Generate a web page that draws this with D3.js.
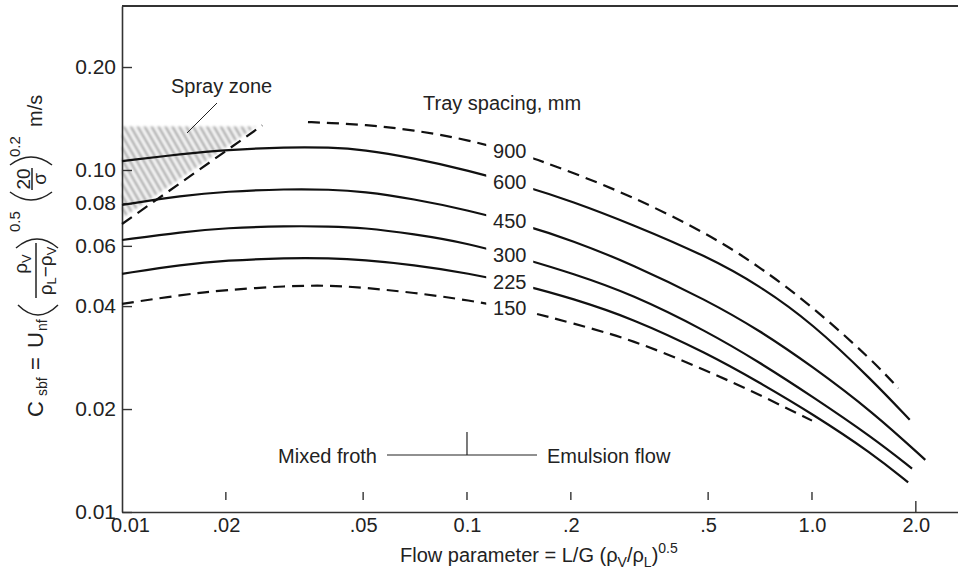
<!DOCTYPE html>
<html>
<head>
<meta charset="utf-8">
<script src="https://cdn.jsdelivr.net/npm/d3@7"></script>
<style>
  body { margin: 0; background: #fff; }
  svg { display: block; font-family: "Liberation Sans", Arial, sans-serif; }
  text { fill: #222; }
</style>
</head>
<body>
<svg id="chart" width="958" height="573"></svg>
<script>
// tray spacing curves, [flow parameter, C_sbf in m/s]
const spacing900 = [[0.0346, 0.1381], [0.04, 0.1372], [0.05, 0.1358], [0.07, 0.1309], [0.1, 0.1228], [0.15, 0.1099], [0.2, 0.0987], [0.3, 0.0839], [0.5, 0.065], [0.7, 0.0524], [1.0, 0.04], [1.5, 0.0277], [1.78, 0.023]]
const spacing600 = [[0.01, 0.1062], [0.015, 0.1114], [0.02, 0.1144], [0.03, 0.1167], [0.04, 0.1164], [0.05, 0.1148], [0.07, 0.1084], [0.1, 0.1], [0.15, 0.0892], [0.2, 0.0812], [0.3, 0.0695], [0.5, 0.0557], [0.7, 0.0461], [1.0, 0.0357], [1.5, 0.0242], [1.92, 0.0186]]
const spacing450 = [[0.01, 0.079], [0.015, 0.0842], [0.02, 0.0865], [0.03, 0.088], [0.04, 0.0877], [0.05, 0.0865], [0.07, 0.0823], [0.1, 0.0764], [0.15, 0.0686], [0.2, 0.0624], [0.3, 0.0531], [0.5, 0.0414], [0.7, 0.0341], [1.0, 0.0267], [1.5, 0.0196], [2.13, 0.0142]]
const spacing300 = [[0.01, 0.0624], [0.015, 0.0659], [0.02, 0.0677], [0.03, 0.0686], [0.04, 0.0684], [0.05, 0.0678], [0.07, 0.065], [0.1, 0.0612], [0.15, 0.0546], [0.2, 0.05], [0.3, 0.0434], [0.5, 0.0336], [0.7, 0.0275], [1.0, 0.0218], [1.5, 0.0165], [1.95, 0.0134]]
const spacing225 = [[0.01, 0.0497], [0.015, 0.0529], [0.02, 0.0544], [0.03, 0.0553], [0.04, 0.0552], [0.05, 0.0546], [0.07, 0.0528], [0.1, 0.05], [0.15, 0.0458], [0.2, 0.0422], [0.3, 0.0369], [0.5, 0.029], [0.7, 0.024], [1.0, 0.0194], [1.5, 0.0148], [1.9, 0.0122]]
const spacing150 = [[0.01, 0.0406], [0.015, 0.0432], [0.02, 0.0446], [0.03, 0.0458], [0.04, 0.046], [0.05, 0.0453], [0.07, 0.0438], [0.1, 0.0417], [0.15, 0.0387], [0.2, 0.0357], [0.3, 0.032], [0.5, 0.0258], [0.7, 0.0221], [1.0, 0.0185]]

// spray zone boundary (dashed) and top of the hatched area
const sprayBoundary = [[0.01, 0.0695], [0.0255, 0.135]]
const sprayTop = 0.134

// axis ticks
const flowTicks = [0.01, 0.02, 0.05, 0.1, 0.2, 0.5, 1.0, 2.0]
const flowTickLabels = ["0.01", ".02", ".05", "0.1", ".2", ".5", "1.0", "2.0"]
const csbfTicks = [0.01, 0.02, 0.04, 0.06, 0.08, 0.1, 0.2]

// where the spacing numbers sit along the curves
const labelFlow = 0.133
// mixed froth / emulsion flow transition
const regimeFlow = 0.1

const curves = [
  { label: "900", dashed: true, points: spacing900 },
  { label: "600", dashed: false, points: spacing600 },
  { label: "450", dashed: false, points: spacing450 },
  { label: "300", dashed: false, points: spacing300 },
  { label: "225", dashed: false, points: spacing225 },
  { label: "150", dashed: true, points: spacing150 },
]

const dims = { left: 122, right: 958, top: 6, bottom: 512 }
const svg = d3.select("#chart")

const x = d3.scaleLog().domain([0.01, 2.65]).range([dims.left, dims.right])
const y = d3.scaleLog().domain([0.01, 0.3016]).range([dims.bottom, dims.top])

// hatch pattern for the spray zone
const defs = svg.append("defs")
const pat = defs.append("pattern")
  .attr("id", "hatch")
  .attr("patternUnits", "userSpaceOnUse")
  .attr("width", 6).attr("height", 6)
  .attr("patternTransform", "rotate(-30)")
pat.append("rect").attr("width", 6).attr("height", 6).attr("fill", "#f3f3f3")
pat.append("line").attr("x1", 2).attr("x2", 2).attr("y1", 0).attr("y2", 6)
  .attr("stroke", "#9a9a9a").attr("stroke-width", 2)
defs.append("filter").attr("id", "soft")
  .append("feGaussianBlur").attr("stdDeviation", 0.8)

svg.append("path")
  .attr("d", d3.line().x(d => x(d[0])).y(d => y(d[1]))(
    [[0.01, sprayTop], [0.0245, sprayTop], [0.01, sprayBoundary[0][1] * 1.04]]))
  .attr("fill", "url(#hatch)")
  .attr("filter", "url(#soft)")

// axes
const xAxis = d3.axisBottom(x)
  .tickValues(flowTicks)
  .tickFormat((d, i) => flowTickLabels[i])
  .tickSize(0)
  .tickPadding(6)
const gx = svg.append("g")
  .attr("transform", `translate(0, ${dims.bottom})`)
  .call(xAxis)
gx.select(".domain").attr("stroke", "#333").attr("stroke-width", 1.6)
gx.selectAll("text").style("font-size", "20px").attr("fill", "#222")
gx.selectAll(".tick").filter(d => d === 0.01).select("text").attr("dx", 8)

// small detached tick marks above the x axis
svg.append("g")
  .selectAll("line")
  .data(flowTicks.filter(d => d > 0.01))
  .join("line")
  .attr("x1", d => x(d)).attr("x2", d => x(d))
  .attr("y1", d => d === 2.0 ? dims.bottom - 11 : dims.bottom - 20)
  .attr("y2", d => d === 2.0 ? dims.bottom : dims.bottom - 12)
  .attr("stroke", "#333").attr("stroke-width", 1.4)

const yAxis = d3.axisLeft(y)
  .tickValues(csbfTicks)
  .tickFormat(d3.format(".2f"))
  .tickSizeInner(-10)
  .tickSizeOuter(0)
  .tickPadding(6)
const gy = svg.append("g")
  .attr("transform", `translate(${dims.left}, 0)`)
  .call(yAxis)
gy.select(".domain").attr("stroke", "#333").attr("stroke-width", 1.6)
gy.selectAll(".tick line").attr("stroke", "#333").attr("stroke-width", 1.4)
gy.selectAll("text").style("font-size", "21px").attr("fill", "#222")

// top frame line
svg.append("line")
  .attr("x1", dims.left).attr("x2", dims.right)
  .attr("y1", dims.top).attr("y2", dims.top)
  .attr("stroke", "#333").attr("stroke-width", 2)

// curves, smoothed through the read-off points
const line = d3.line()
  .x(d => x(d[0]))
  .y(d => y(d[1]))
  .curve(d3.curveBasis)

svg.append("g")
  .selectAll("path")
  .data(curves)
  .join("path")
  .attr("d", d => line(d.points))
  .attr("fill", "none")
  .attr("stroke", "#111")
  .attr("stroke-width", 2.2)
  .attr("stroke-dasharray", d => d.dashed ? "12,7" : null)

// spray zone boundary
svg.append("path")
  .attr("d", d3.line().x(d => x(d[0])).y(d => y(d[1]))(sprayBoundary))
  .attr("fill", "none")
  .attr("stroke", "#111")
  .attr("stroke-width", 2.2)
  .attr("stroke-dasharray", "12,7")

// curve labels sit on the curves, with a white gap around them
const valueAt = (pts, fx) => {
  const i = pts.findIndex(p => p[0] >= fx)
  const a = pts[i - 1], b = pts[i]
  const t = (Math.log(fx) - Math.log(a[0])) / (Math.log(b[0]) - Math.log(a[0]))
  return Math.exp(Math.log(a[1]) + t * (Math.log(b[1]) - Math.log(a[1])))
}
const labels = svg.append("g")
curves.forEach(c => {
  const cx = x(labelFlow)
  const cy = y(valueAt(c.points, labelFlow))
  labels.append("rect")
    .attr("x", cx - 23.5).attr("y", cy - 10)
    .attr("width", 47).attr("height", 20)
    .attr("fill", "#fff")
  labels.append("text")
    .attr("x", cx).attr("y", cy)
    .attr("dy", "0.36em")
    .attr("text-anchor", "middle")
    .style("font-size", "20px")
    .text(c.label)
})

svg.append("text")
  .attr("x", 423).attr("y", 110)
  .style("font-size", "20px")
  .text("Tray spacing, mm")

// spray zone note
svg.append("text")
  .attr("x", 171).attr("y", 93)
  .style("font-size", "20px")
  .text("Spray zone")
svg.append("line")
  .attr("x1", 217).attr("y1", 103).attr("x2", 187).attr("y2", 133)
  .attr("stroke", "#222").attr("stroke-width", 1)

// regime transition
const regimeY = 455
svg.append("line")
  .attr("x1", x(regimeFlow) - 80).attr("x2", x(regimeFlow) + 70)
  .attr("y1", regimeY).attr("y2", regimeY)
  .attr("stroke", "#222").attr("stroke-width", 1.2)
svg.append("line")
  .attr("x1", x(regimeFlow)).attr("x2", x(regimeFlow))
  .attr("y1", regimeY - 23).attr("y2", regimeY)
  .attr("stroke", "#222").attr("stroke-width", 1.2)
svg.append("text")
  .attr("x", x(regimeFlow) - 90).attr("y", regimeY + 8)
  .attr("text-anchor", "end")
  .style("font-size", "20px")
  .text("Mixed froth")
svg.append("text")
  .attr("x", x(regimeFlow) + 80).attr("y", regimeY + 8)
  .style("font-size", "20px")
  .text("Emulsion flow")

// x axis title
const xt = svg.append("text")
  .attr("x", 400).attr("y", 562)
  .style("font-size", "20px")
xt.append("tspan").text("Flow parameter = L/G (ρ")
xt.append("tspan").attr("dy", 5).style("font-size", "14px").text("V")
xt.append("tspan").attr("dy", -5).text("/ρ")
xt.append("tspan").attr("dy", 5).style("font-size", "14px").text("L")
xt.append("tspan").attr("dy", -5).text(")")
xt.append("tspan").attr("dy", -9).style("font-size", "14px").text("0.5")

// y axis title, rotated pieces
const yl = svg.append("g")
const rot = (px, py, parts, anchor = "start") => {
  const t = yl.append("text")
    .attr("transform", `translate(${px}, ${py}) rotate(-90)`)
    .attr("text-anchor", anchor)
  parts.forEach(p => {
    t.append("tspan")
      .attr("dy", p.dy || 0)
      .style("font-size", `${p.size}px`)
      .text(p.t)
  })
}
const paren = (d) => yl.append("path").attr("d", d)
  .attr("fill", "none").attr("stroke", "#222").attr("stroke-width", 1.5)
const bar = (px, y1, y2) => yl.append("line")
  .attr("x1", px).attr("x2", px).attr("y1", y1).attr("y2", y2)
  .attr("stroke", "#222").attr("stroke-width", 1.5)

rot(43, 417, [{ t: "C", size: 22 }])
rot(47, 396, [{ t: "sbf", size: 14 }])
rot(43, 370, [{ t: "=", size: 22 }])
rot(43, 348, [{ t: "U", size: 22 }])
rot(47, 331, [{ t: "nf", size: 14 }])
paren("M18,305 Q38,325 58,305")
rot(27, 264, [{ t: "ρ", size: 19 }, { t: "V", size: 13, dy: 4 }], "middle")
bar(36, 243, 298)
rot(52, 271, [{ t: "ρ", size: 19 }, { t: "L", size: 13, dy: 4 }, { t: "−ρ", size: 19, dy: -4 }, { t: "V", size: 13, dy: 4 }], "middle")
paren("M16,248 Q37,230 58,248")
rot(20, 232, [{ t: "0.5", size: 15 }])
paren("M10,192 Q31,208 52,192")
rot(30, 179, [{ t: "20", size: 19 }], "middle")
bar(32, 168, 190)
rot(46, 179, [{ t: "σ", size: 19 }], "middle")
paren("M10,165 Q31,149 52,165")
rot(20, 157, [{ t: "0.2", size: 15 }])
rot(42, 127, [{ t: "m/s", size: 20 }])
</script>
</body>
</html>
